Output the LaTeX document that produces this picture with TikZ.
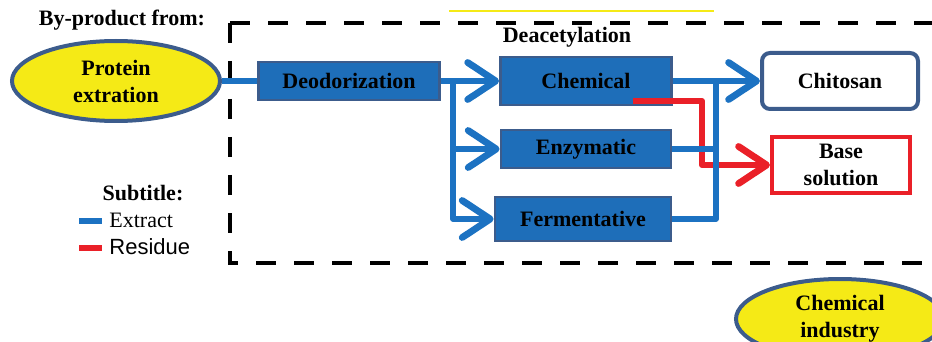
\documentclass[tikz,border=0pt]{standalone}
\usepackage{fontspec}
\setmainfont{Liberation Serif}
\newfontfamily\arialfont{Liberation Sans}
\usetikzlibrary{arrows.meta, shapes.geometric}

\definecolor{boxblue}{RGB}{30,110,185}
\definecolor{edgeblue}{RGB}{60,92,140}
\definecolor{lineblue}{RGB}{28,114,194}
\definecolor{lemon}{RGB}{245,234,22}
\definecolor{resred}{RGB}{234,32,40}

\begin{document}
\begin{tikzpicture}[x=0.5pt, y=-0.5pt,
    every node/.style={font=\bfseries\fontsize{11}{13.5}\selectfont, align=center, inner sep=0pt},
    stage/.style={rectangle, draw=edgeblue, fill=boxblue, line width=1.4pt, minimum height=19pt},
    source/.style={ellipse, draw=edgeblue, fill=lemon, line width=2pt, minimum width=104pt, minimum height=40pt},
    product/.style={rectangle, line width=2pt, fill=white, minimum width=78pt, minimum height=28pt},
    extract/.style={draw=lineblue, line width=2.6pt, line join=round},
    residue/.style={draw=resred, line width=3pt, line join=round},
    tip/.style={-{Straight Barb[length=14pt, width=18.5pt, line width=3.4pt, round]}}]
    \clip (0,0) rectangle (932,342);

    % Frame
    \draw[lemon, line width=0.8pt] (449,11) -- (714,11);
    \draw[line width=2pt, dash pattern=on 10pt off 9pt] (230,23) -- (960,23);
    \draw[line width=2pt, dash pattern=on 10pt off 9pt] (230,23) -- (230,263) -- (960,263);
    \node (byprod) at (122,20) {By-product from:};
    \node (deacet) at (567,37) {Deacetylation};

    % Process
    \node (protein) [source] at (116,81) {Protein\\extration};
    \node (deodor) [stage, minimum width=90.5pt] at (349,81) {Deodorization};
    \node (chem) [stage, minimum width=85.5pt, minimum height=24pt] at (586,81) {Chemical};
    \node (enz) [stage, minimum width=85pt] at (586,149) {Enzymatic};
    \node (ferm) [stage, minimum width=88pt, minimum height=22pt] at (583,219) {Fermentative};
    \node (chito) [product, draw=edgeblue, rounded corners=4pt] at (840,81) {Chitosan};
    \node (base) [product, draw=resred, minimum width=69pt] at (841,165) {Base\\solution};
    \node (chemind) [source] at (840,319) {Chemical\\industry};

    % Subtitle
    \node (subt) at (143,193) {Subtitle:};
    \node (extr) [anchor=west, font=\fontsize{11}{13}\selectfont] at (109,220) {Extract};
    \node (resid) [anchor=west, font=\arialfont\fontsize{11}{13}\selectfont] at (109,247) {Residue};
    \draw[extract] ([xshift=-15pt,yshift=-0.5pt]extr.west) -- ([xshift=-3.5pt,yshift=-0.5pt]extr.west);
    \draw[residue] ([xshift=-15pt,yshift=-0.5pt]resid.west) -- ([xshift=-3.5pt,yshift=-0.5pt]resid.west);

    % Connectors
    \coordinate (split) at (453,81);
    \coordinate (merge) at (716,81);
    \coordinate (resstart) at (633,101);
    \coordinate (resturn) at (702,165);
    \draw[residue, tip] (resstart) -| (resturn) -- (base.west);
    \draw[extract] (protein.east) -- (deodor.west);
    \draw[extract, tip] (deodor.east) -- (chem.west);
    \draw[extract, tip] (split) |- (enz.west);
    \draw[extract, tip] (split) |- (ferm.west);
    \draw[extract, tip] (chem.east) -- (chito.west);
    \draw[extract] (enz.east) -- (enz.east -| merge);
    \draw[extract] (ferm.east) -| (merge);
\end{tikzpicture}
\end{document}
